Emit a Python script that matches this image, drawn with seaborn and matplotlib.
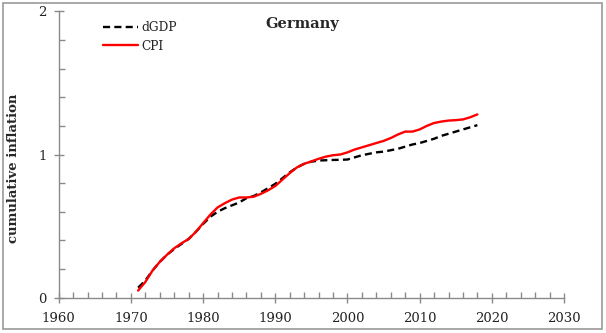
import numpy as np
import pandas as pd
import matplotlib
matplotlib.use("Agg")
import matplotlib.pyplot as plt
import seaborn as sns
from matplotlib.patches import Rectangle
from matplotlib.ticker import MultipleLocator

years = list(range(1971, 2019))
cpi = [0.05, 0.11, 0.19, 0.25, 0.30, 0.345, 0.38, 0.41, 0.46, 0.52,
       0.58, 0.63, 0.66, 0.685, 0.70, 0.70, 0.705, 0.725, 0.75, 0.78,
       0.825, 0.87, 0.91, 0.935, 0.952, 0.97, 0.985, 0.995, 1.00, 1.015,
       1.035, 1.05, 1.065, 1.08, 1.095, 1.115, 1.14, 1.16, 1.16, 1.175,
       1.20, 1.22, 1.23, 1.237, 1.24, 1.245, 1.26, 1.28]
dgdp = [0.07, 0.12, 0.19, 0.25, 0.30, 0.34, 0.375, 0.41, 0.46, 0.515,
        0.565, 0.60, 0.625, 0.645, 0.665, 0.695, 0.71, 0.735, 0.765, 0.795,
        0.835, 0.875, 0.91, 0.935, 0.95, 0.958, 0.96, 0.962, 0.963, 0.965,
        0.98, 0.995, 1.005, 1.015, 1.02, 1.03, 1.04, 1.055, 1.07, 1.08,
        1.095, 1.11, 1.13, 1.145, 1.16, 1.175, 1.19, 1.205]
x_ticks = [1960, 1970, 1980, 1990, 2000, 2010, 2020, 2030]
y_ticks = [0, 1, 2]
title = "Germany"
ylabel = "cumulative inflation"

sns.set_style("white")
plt.rcParams['font.family'] = ['DejaVu Serif']

df = pd.DataFrame({"year": years, "dGDP": dgdp, "CPI": cpi})

fig = plt.figure(figsize=(6.06, 3.33), dpi=100)
ax = fig.add_axes([0.0969, 0.106, 0.8338, 0.860])

sns.lineplot(data=df, x="year", y="dGDP", ax=ax, color="black",
             linewidth=1.7, linestyle=(0, (3, 1.8)), label="dGDP")
sns.lineplot(data=df, x="year", y="CPI", ax=ax, color="#ff0000",
             linewidth=1.7, label="CPI")

ax.set_xlim(1960, 2030)
ax.set_ylim(0, 2)
ax.set_xticks(x_ticks)
ax.set_yticks(y_ticks)
ax.xaxis.set_minor_locator(MultipleLocator(2))
ax.yaxis.set_minor_locator(MultipleLocator(0.2))
for s in ["top", "right"]:
    ax.spines[s].set_visible(False)
for s in ["left", "bottom"]:
    ax.spines[s].set_color("#8a8a8a")
    ax.spines[s].set_linewidth(1.0)
ax.tick_params(which="major", direction="inout", length=7, width=1.0,
               color="#8a8a8a", labelsize=9.5, labelcolor="#222222")
ax.tick_params(axis="x", which="major", pad=7)
ax.tick_params(axis="y", which="major", pad=5)
ax.tick_params(which="minor", direction="in", length=4, width=1.0,
               color="#8a8a8a")
ax.tick_params(axis="x", which="both", bottom=True)
ax.tick_params(axis="y", which="both", left=True)

ax.set_xlabel("")
ax.set_ylabel(ylabel, fontsize=9.5, fontweight="bold")
ax.yaxis.set_label_coords(-0.077, 0.453)

ax.text(0.4815, 0.956, title, transform=ax.transAxes, ha="center", va="center",
        fontsize=10.5, fontweight="bold")

leg = ax.legend(loc="upper left", bbox_to_anchor=(0.078, 0.983), frameon=False,
                fontsize=8.8, handlelength=2.9, handletextpad=0.2,
                labelspacing=0.45, borderaxespad=0)

fig.patches.append(Rectangle((3/606, 4/333), 599/606, 326/333,
                             transform=fig.transFigure, fill=False,
                             edgecolor="#9a9a9a", linewidth=1.2))

fig.savefig("out.png", dpi=100)
